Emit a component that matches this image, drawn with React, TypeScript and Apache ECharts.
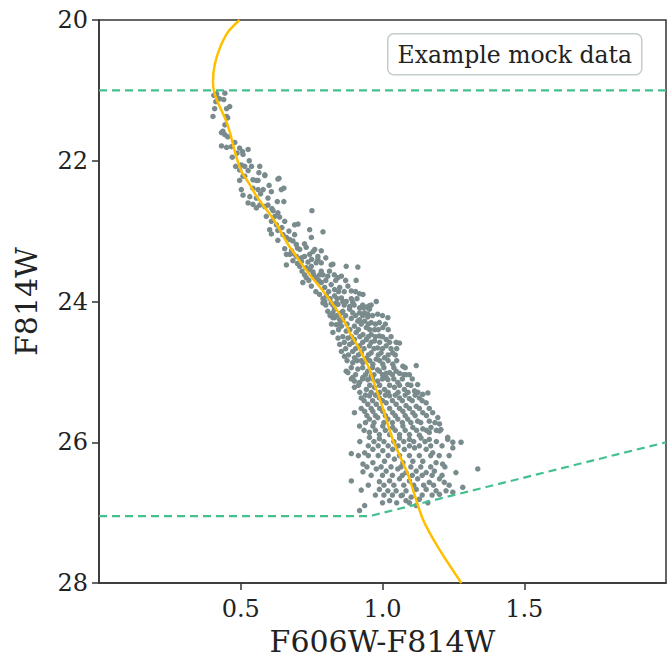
import React, { useEffect, useRef } from "react";
import * as echarts from "echarts";

const xTicks = [0.5, 1.0, 1.5];
const yTicks = [20, 22, 24, 26, 28];
const brightCut: [number, number][] = [[0, 21], [2, 21]];
const faintCut: [number, number][] = [[0, 27.05], [0.954, 27.05], [2, 26.0]];

const isochrone: [number, number][] = [
  [0.496, 20.0], [0.455, 20.17], [0.426, 20.4], [0.408, 20.64], [0.402, 20.87], [0.406, 21.02],
  [0.42, 21.18], [0.444, 21.39], [0.462, 21.6], [0.479, 21.87], [0.5, 22.13], [0.532, 22.34],
  [0.555, 22.5], [0.62, 22.86], [0.667, 23.19], [0.743, 23.62], [0.766, 23.73], [0.813, 23.97],
  [0.872, 24.33], [0.884, 24.44], [0.919, 24.68], [0.954, 24.96], [0.966, 25.11], [1.0, 25.5],
  [1.036, 25.96], [1.089, 26.45], [1.142, 27.09], [1.2, 27.52], [1.278, 28.0],
];

const starsUpper: [number, number][] = [
  [0.444, 21.04], [0.415, 21.05],
  [0.405, 21.07], [0.426, 21.12], [0.419, 21.11], [0.44, 21.13], [0.412, 21.16], [0.461, 21.23], [0.408, 21.26],
  [0.45, 21.26], [0.402, 21.37], [0.45, 21.37], [0.454, 21.39], [0.444, 21.49], [0.437, 21.58], [0.432, 21.6],
  [0.444, 21.63], [0.454, 21.66], [0.479, 21.74], [0.432, 21.79], [0.45, 21.81], [0.467, 21.8], [0.496, 21.82],
  [0.506, 21.87], [0.526, 21.84], [0.487, 21.89], [0.508, 21.91], [0.482, 22.08], [0.502, 22.06], [0.514, 22.08],
  [0.538, 22.08], [0.567, 22.08], [0.496, 22.13], [0.526, 22.14], [0.564, 22.17], [0.585, 22.2], [0.508, 22.22],
  [0.543, 22.27], [0.561, 22.28], [0.496, 22.28], [0.635, 22.25],
  [0.514, 22.22], [0.555, 22.28], [0.585, 22.21], [0.631, 22.26], [0.502, 22.41], [0.543, 22.39], [0.561, 22.41],
  [0.579, 22.41], [0.608, 22.44], [0.643, 22.41], [0.652, 22.39], [0.508, 22.49], [0.532, 22.51], [0.555, 22.53],
  [0.596, 22.53], [0.629, 22.58], [0.652, 22.58], [0.526, 22.6], [0.543, 22.62], [0.567, 22.63], [0.555, 22.67],
  [0.585, 22.65], [0.596, 22.63], [0.751, 22.71], [0.614, 22.71], [0.631, 22.74], [0.59, 22.79], [0.62, 22.79],
  [0.637, 22.8], [0.655, 22.86], [0.608, 22.86], [0.626, 22.91], [0.69, 22.91], [0.702, 22.9], [0.602, 22.98],
  [0.631, 22.99], [0.743, 22.98], [0.79, 23.01], [0.608, 23.04], [0.649, 23.05], [0.661, 23.09], [0.749, 23.09],
  [0.631, 23.13], [0.673, 23.12], [0.684, 23.14], [0.696, 23.19], [0.725, 23.18], [0.731, 23.23], [0.655, 23.25],
  [0.679, 23.28], [0.708, 23.26], [0.761, 23.26], [0.784, 23.28], [0.661, 23.33], [0.684, 23.32], [0.696, 23.36],
  [0.725, 23.36], [0.743, 23.33], [0.772, 23.36], [0.684, 23.42], [0.714, 23.43], [0.737, 23.44], [0.766, 23.45],
  [0.784, 23.45], [0.661, 23.48], [0.708, 23.5], [0.731, 23.52], [0.749, 23.5], [0.825, 23.47], [0.716, 23.57],
  [0.755, 23.58], [0.784, 23.57], [0.813, 23.57],
  [0.47, 21.95], [0.53, 22.0], [0.6, 22.35], [0.57, 22.47], [0.61, 22.68], [0.645, 22.95], [0.67, 23.0],
  [0.69, 23.05], [0.7, 23.24], [0.75, 23.4], [0.7, 23.46], [0.8, 23.38],
];

const starsMiddle: [number, number][] = [
  [0.673, 23.33], [0.755, 23.29], [0.714, 23.38], [0.772, 23.4], [0.819, 23.48], [0.872, 23.5], [0.913, 23.51],
  [0.743, 23.55], [0.778, 23.62], [0.807, 23.64], [0.731, 23.66], [0.766, 23.66], [0.843, 23.66], [0.855, 23.64],
  [0.907, 23.7], [0.719, 23.73], [0.749, 23.78], [0.784, 23.73], [0.796, 23.8], [0.819, 23.76], [0.831, 23.83],
  [0.849, 23.8], [0.878, 23.78], [0.89, 23.85], [0.919, 23.89], [0.778, 23.9], [0.802, 23.92], [0.831, 23.92],
  [0.855, 23.95], [0.872, 24.0], [0.931, 23.9], [0.79, 24.02], [0.819, 24.02], [0.843, 24.04], [0.884, 24.07],
  [0.919, 24.09], [0.943, 24.08], [0.978, 24.0], [0.807, 24.14], [0.831, 24.11], [0.86, 24.14], [0.895, 24.16],
  [0.937, 24.16], [0.954, 24.11], [0.831, 24.23], [0.849, 24.26], [0.89, 24.24], [0.919, 24.26], [0.948, 24.22],
  [0.983, 24.18], [1.019, 24.23],
  [0.796, 24.0], [0.837, 24.02], [0.86, 24.0], [0.895, 24.01], [0.931, 24.09], [0.954, 24.06],
  [0.825, 24.16], [0.855, 24.16], [0.884, 24.11], [0.919, 24.16], [0.948, 24.18],
  [0.825, 24.23], [0.86, 24.26], [0.913, 24.28], [0.937, 24.28], [0.96, 24.3], [0.989, 24.3], [0.837, 24.33],
  [0.855, 24.35], [0.901, 24.35], [0.943, 24.37], [0.972, 24.4], [1.001, 24.37], [0.825, 24.44], [0.872, 24.42],
  [0.907, 24.44], [0.931, 24.47], [0.96, 24.47], [0.989, 24.49], [0.843, 24.52], [0.878, 24.52], [0.901, 24.54],
  [0.943, 24.54], [0.972, 24.56], [1.013, 24.54], [1.048, 24.58], [0.849, 24.61], [0.884, 24.61], [0.919, 24.63],
  [0.954, 24.63], [0.983, 24.66], [1.013, 24.63], [1.06, 24.59], [0.855, 24.71], [0.895, 24.71], [0.925, 24.73],
  [0.96, 24.73], [0.995, 24.73], [1.036, 24.73], [0.866, 24.78], [0.901, 24.8], [0.943, 24.81], [0.978, 24.82],
  [1.007, 24.8], [0.895, 24.87], [0.931, 24.87], [0.966, 24.89], [1.001, 24.89], [1.036, 24.89], [1.072, 24.92],
  [0.872, 24.99], [0.913, 24.96], [0.948, 24.99], [0.989, 24.99], [1.025, 25.01], [1.06, 25.02], [1.095, 25.04],
  [1.119, 24.91], [0.895, 25.08], [0.931, 25.08], [0.96, 25.06], [1.013, 25.08],
];

const starsLower: [number, number][] = [
  [0.878, 25.01], [0.983, 24.97], [1.013, 25.02], [1.048, 24.99], [1.083, 25.04], [0.901, 25.13], [0.919, 25.15],
  [0.948, 25.11], [0.983, 25.13], [1.019, 25.11], [1.054, 25.15], [1.089, 25.18], [1.124, 25.18], [0.901, 25.22],
  [0.943, 25.25], [0.972, 25.22], [1.007, 25.25], [1.042, 25.22], [1.077, 25.25], [1.113, 25.27], [1.142, 25.32],
  [1.16, 25.3], [0.925, 25.37], [0.954, 25.34], [0.989, 25.37], [1.025, 25.34], [1.06, 25.37], [1.095, 25.38],
  [1.13, 25.37], [1.154, 25.44], [0.948, 25.46], [0.978, 25.46], [1.013, 25.44], [1.048, 25.46], [1.083, 25.48],
  [1.119, 25.49], [0.901, 25.58], [0.937, 25.56], [0.966, 25.56], [1.001, 25.56], [1.036, 25.58], [1.072, 25.56],
  [1.107, 25.58], [1.142, 25.58], [1.177, 25.58], [0.954, 25.67], [0.983, 25.65], [1.019, 25.67], [1.054, 25.67],
  [1.089, 25.67], [1.124, 25.7], [1.165, 25.7], [1.195, 25.65], [0.919, 25.77], [0.966, 25.77], [1.001, 25.77],
  [1.036, 25.79], [1.072, 25.77], [1.107, 25.79], [1.142, 25.81], [1.171, 25.79], [1.206, 25.82], [1.201, 25.74],
  [0.954, 25.86], [0.989, 25.89], [1.025, 25.89], [1.06, 25.89], [1.095, 25.89], [1.13, 25.9], [1.165, 25.86],
  [1.23, 25.93],
  [0.954, 25.93], [0.989, 25.95], [1.06, 25.94], [1.095, 25.96], [1.136, 25.94], [1.165, 25.96], [1.201, 25.84],
  [1.23, 25.96], [1.248, 26.0], [1.277, 26.0], [0.89, 26.16], [0.937, 26.15], [0.966, 26.1], [1.001, 26.12],
  [1.036, 26.1], [1.077, 26.1], [1.113, 26.08], [1.154, 26.1], [1.177, 26.15], [1.248, 26.08], [0.931, 26.31],
  [0.966, 26.29], [1.007, 26.27], [1.042, 26.24], [1.072, 26.29], [1.107, 26.27], [1.142, 26.27], [1.189, 26.29],
  [1.212, 26.31], [0.931, 26.42], [0.978, 26.38], [1.013, 26.41], [1.054, 26.38], [1.083, 26.43], [1.119, 26.41],
  [1.154, 26.43], [1.183, 26.41], [1.259, 26.43], [1.336, 26.38], [0.89, 26.55], [0.989, 26.56], [1.025, 26.55],
  [1.06, 26.52], [1.095, 26.55], [1.124, 26.52], [1.165, 26.57], [1.201, 26.52], [1.218, 26.57], [0.925, 26.68],
  [0.989, 26.67], [1.019, 26.69], [1.048, 26.69], [1.083, 26.69], [1.119, 26.67], [1.154, 26.67], [1.189, 26.69],
  [1.224, 26.69], [1.248, 26.71], [1.283, 26.64], [1.025, 26.83], [1.066, 26.76], [1.101, 26.78], [1.13, 26.81],
  [1.083, 26.83], [0.937, 26.9], [0.919, 26.97], [1.119, 26.9], [1.201, 26.74],
];

const starsCoreFill: [number, number][] = [
  [0.725, 23.62], [0.757, 23.62], [0.79, 23.62], [0.83, 23.62],
  [0.74, 23.7], [0.775, 23.7], [0.8, 23.7], [0.835, 23.7], [0.87, 23.7],
  [0.765, 23.86], [0.81, 23.86], [0.845, 23.86], [0.865, 23.86], [0.905, 23.86],
  [0.79, 23.96], [0.815, 23.96], [0.84, 23.96], [0.89, 23.96], [0.91, 23.96],
  [0.8, 24.05], [0.825, 24.05], [0.865, 24.05], [0.9, 24.05], [0.93, 24.05], [0.96, 24.05],
  [0.815, 24.2], [0.84, 24.2], [0.87, 24.2], [0.905, 24.2], [0.93, 24.2], [0.965, 24.2], [1.0, 24.2],
  [0.82, 24.32], [0.85, 24.32], [0.875, 24.32], [0.925, 24.32], [0.95, 24.32], [0.975, 24.32], [1.01, 24.32],
  [0.845, 24.4], [0.885, 24.4], [0.915, 24.4], [0.955, 24.4], [0.985, 24.4], [1.02, 24.4],
  [0.86, 24.5], [0.89, 24.5], [0.92, 24.5], [0.95, 24.5], [0.975, 24.5], [1.0, 24.5], [1.03, 24.5],
  [0.865, 24.58], [0.895, 24.58], [0.93, 24.58], [0.96, 24.58], [0.99, 24.58], [1.025, 24.58],
  [0.87, 24.67], [0.905, 24.67], [0.935, 24.67], [0.97, 24.67], [1.0, 24.67], [1.03, 24.67], [1.05, 24.67],
  [0.88, 24.76], [0.915, 24.76], [0.95, 24.76], [0.985, 24.76], [1.02, 24.76], [1.045, 24.76],
  [0.875, 24.84], [0.91, 24.84], [0.925, 24.84], [0.955, 24.84], [0.99, 24.84], [1.02, 24.84], [1.05, 24.84],
  [0.89, 24.94], [0.93, 24.94], [0.965, 24.94], [1.005, 24.94], [1.04, 24.94], [1.08, 24.94],
  [0.905, 25.04], [0.94, 25.04], [0.97, 25.04], [1.0, 25.04], [1.035, 25.04], [1.075, 25.04],
  [0.89, 25.1], [0.93, 25.1], [0.965, 25.1], [1.0, 25.1], [1.04, 25.1], [1.07, 25.1], [1.105, 25.1],
  [0.915, 25.19], [0.955, 25.19], [0.99, 25.19], [1.025, 25.19], [1.06, 25.19], [1.1, 25.19],
  [0.92, 25.29], [0.96, 25.29], [0.99, 25.29], [1.02, 25.29], [1.055, 25.29], [1.09, 25.29], [1.125, 25.29],
  [0.94, 25.33], [0.975, 25.33], [1.01, 25.33], [1.045, 25.33], [1.08, 25.33], [1.115, 25.33],
  [0.935, 25.41], [0.965, 25.41], [1.0, 25.41], [1.035, 25.41], [1.07, 25.41], [1.105, 25.41], [1.14, 25.41],
  [0.925, 25.52], [0.96, 25.52], [0.99, 25.52], [1.025, 25.52], [1.06, 25.52], [1.095, 25.52], [1.13, 25.52], [1.165, 25.52],
  [0.945, 25.62], [0.975, 25.62], [1.01, 25.62], [1.045, 25.62], [1.08, 25.62], [1.115, 25.62], [1.155, 25.62],
  [0.94, 25.72], [0.97, 25.72], [1.005, 25.72], [1.035, 25.72], [1.07, 25.72], [1.1, 25.72], [1.135, 25.72], [1.185, 25.72],
  [0.935, 25.83], [0.975, 25.83], [1.01, 25.83], [1.045, 25.83], [1.08, 25.83], [1.12, 25.83], [1.155, 25.83], [1.19, 25.83],
  [0.92, 25.99], [0.97, 25.99], [1.005, 25.99], [1.04, 25.99], [1.075, 25.99], [1.11, 25.99], [1.15, 25.99], [1.19, 25.99],
  [0.95, 26.05], [0.985, 26.05], [1.02, 26.05], [1.055, 26.05], [1.095, 26.05], [1.13, 26.05], [1.17, 26.05], [1.21, 26.05],
  [0.915, 26.19], [0.95, 26.19], [0.985, 26.19], [1.02, 26.19], [1.06, 26.19], [1.095, 26.19], [1.13, 26.19], [1.17, 26.19], [1.2, 26.19], [1.235, 26.19],
  [0.945, 26.35], [0.995, 26.35], [1.03, 26.35], [1.065, 26.35], [1.1, 26.35], [1.135, 26.35], [1.17, 26.35], [1.22, 26.35],
  [0.96, 26.47], [1.0, 26.47], [1.035, 26.47], [1.07, 26.47], [1.105, 26.47], [1.14, 26.47], [1.175, 26.47], [1.21, 26.47],
  [0.95, 26.61], [1.005, 26.61], [1.04, 26.61], [1.075, 26.61], [1.11, 26.61], [1.145, 26.61], [1.18, 26.61], [1.235, 26.61],
  [0.975, 26.75], [1.005, 26.75], [1.035, 26.75], [1.07, 26.75], [1.14, 26.75], [1.175, 26.75],
  [1.0, 26.86], [1.05, 26.86], [1.095, 26.86], [1.16, 26.86],
];

const FONT = "DejaVu Serif";
const AXIS_COLOR = "#333333";
const TEXT_COLOR = "#222222";

export default function App() {
  const ref = useRef<HTMLDivElement>(null);
  useEffect(() => {
    const chart = echarts.init(ref.current!, null, { renderer: "svg" });
    chart.setOption({
      animation: false,
      backgroundColor: "#ffffff",
      grid: { left: 99, right: 1, top: 20, bottom: 77, show: true, borderColor: AXIS_COLOR, borderWidth: 1.5, backgroundColor: "transparent" },
      xAxis: {
        type: "value",
        min: 0,
        max: 2,
        interval: 0.5,
        name: "F606W-F814W",
        nameLocation: "middle",
        nameGap: 43,
        nameTextStyle: { fontFamily: FONT, fontSize: 30, color: TEXT_COLOR },
        axisLine: { show: true, onZero: false, lineStyle: { color: AXIS_COLOR, width: 1.5 } },
        axisTick: { show: true, customValues: xTicks, length: 7, lineStyle: { color: AXIS_COLOR, width: 1.5 } },
        axisLabel: {
          customValues: xTicks,
          formatter: (v: number) => v.toFixed(1),
          fontFamily: FONT,
          fontSize: 24,
          color: TEXT_COLOR,
          margin: 14,
        },
        splitLine: { show: false },
      },
      yAxis: {
        type: "value",
        inverse: true,
        min: 20,
        max: 28,
        interval: 2,
        name: "F814W",
        nameLocation: "middle",
        nameGap: 58,
        nameTextStyle: { fontFamily: FONT, fontSize: 30, color: TEXT_COLOR },
        axisLine: { show: true, onZero: false, lineStyle: { color: AXIS_COLOR, width: 1.5 } },
        axisTick: { show: true, customValues: yTicks, length: 7, lineStyle: { color: AXIS_COLOR, width: 1.5 } },
        axisLabel: { customValues: yTicks, fontFamily: FONT, fontSize: 24, color: TEXT_COLOR, margin: 11 },
        splitLine: { show: false },
      },
      series: [
        {
          type: "scatter",
          data: [...starsUpper, ...starsMiddle, ...starsLower, ...starsCoreFill],
          symbolSize: 5.5,
          itemStyle: { color: "#7a8b8d", opacity: 1 },
          z: 2,
        },
        {
          type: "line",
          data: brightCut,
          showSymbol: false,
          lineStyle: { color: "#44c08f", width: 2.2, type: [8, 5] },
          z: 3,
        },
        {
          type: "line",
          data: faintCut,
          showSymbol: false,
          lineStyle: { color: "#44c08f", width: 2.2, type: [8, 5] },
          z: 3,
        },
        {
          type: "line",
          data: isochrone,
          showSymbol: false,
          smooth: 0.25,
          lineStyle: { color: "#ffbf00", width: 2.5 },
          z: 4,
        },
      ],
      graphic: [
        {
          type: "group",
          left: 387,
          top: 33,
          children: [
            {
              type: "rect",
              shape: { x: 0, y: 0, width: 254, height: 41, r: 6 },
              style: { fill: "#ffffff", stroke: "#c3cdcd", lineWidth: 1.5 },
            },
            {
              type: "text",
              x: 127,
              y: 21,
              style: {
                text: "Example mock data",
                fontFamily: FONT,
                fontSize: 23.5,
                fill: TEXT_COLOR,
                align: "center",
                verticalAlign: "middle",
              },
            },
          ],
          z: 10,
        },
      ],
    });
    return () => chart.dispose();
  }, []);
  return <div ref={ref} style={{ position: "fixed", left: 0, top: 0, width: 667, height: 661 }} />;
}
